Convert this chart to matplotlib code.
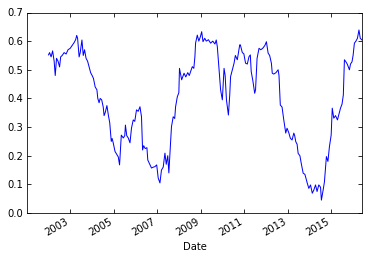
import datetime as dt

import matplotlib
matplotlib.use("Agg")
import matplotlib.pyplot as plt

# rolling value, (decimal year, value)
years = [
    2001.99, 2002.04, 2002.11, 2002.18, 2002.25, 2002.30, 2002.36, 2002.43, 2002.50, 2002.55,
    2002.62, 2002.71, 2002.80, 2002.89, 2002.99, 2003.08, 2003.17, 2003.24, 2003.29, 2003.33,
    2003.40, 2003.45, 2003.53, 2003.59, 2003.65, 2003.72, 2003.79, 2003.86, 2003.93, 2004.00,
    2004.06, 2004.14, 2004.22, 2004.26, 2004.32, 2004.37, 2004.44, 2004.51, 2004.55, 2004.60,
    2004.68, 2004.71, 2004.75, 2004.81, 2004.88, 2004.92, 2004.97, 2005.05, 2005.13, 2005.20,
    2005.26, 2005.30, 2005.34, 2005.43, 2005.50, 2005.53, 2005.59, 2005.66, 2005.74, 2005.81,
    2005.89, 2005.96, 2006.04, 2006.12, 2006.20, 2006.27, 2006.32, 2006.37, 2006.44, 2006.52,
    2006.56, 2006.66, 2006.73, 2006.81, 2006.89, 2006.97, 2007.04, 2007.12, 2007.19, 2007.27,
    2007.35, 2007.41, 2007.48, 2007.53, 2007.58, 2007.65, 2007.73, 2007.80, 2007.84, 2007.92,
    2007.99, 2008.02, 2008.12, 2008.23, 2008.31, 2008.40, 2008.47, 2008.54, 2008.61, 2008.68,
    2008.73, 2008.76, 2008.84, 2008.91, 2008.98, 2009.04, 2009.10, 2009.18, 2009.25, 2009.35,
    2009.45, 2009.55, 2009.65, 2009.71, 2009.76, 2009.84, 2009.91, 2009.99, 2010.07, 2010.12,
    2010.18, 2010.27, 2010.33, 2010.37, 2010.45, 2010.53, 2010.59, 2010.68, 2010.79, 2010.82,
    2010.91, 2010.98, 2011.06, 2011.14, 2011.22, 2011.28, 2011.32, 2011.40, 2011.48, 2011.52,
    2011.59, 2011.68, 2011.76, 2011.85, 2011.95, 2012.02, 2012.10, 2012.17, 2012.25, 2012.29,
    2012.36, 2012.46, 2012.56, 2012.60, 2012.66, 2012.74, 2012.82, 2012.91, 2012.97, 2013.05,
    2013.12, 2013.20, 2013.28, 2013.32, 2013.37, 2013.43, 2013.48, 2013.56, 2013.63, 2013.71,
    2013.79, 2013.90, 2013.97, 2014.05, 2014.13, 2014.20, 2014.28, 2014.35, 2014.43, 2014.51,
    2014.55, 2014.63, 2014.69, 2014.78, 2014.85, 2014.92, 2015.00, 2015.05, 2015.12, 2015.20,
    2015.29, 2015.36, 2015.43, 2015.50, 2015.56, 2015.61, 2015.66, 2015.74, 2015.84, 2015.89,
    2015.96, 2016.01, 2016.07, 2016.14, 2016.21, 2016.28, 2016.34, 2016.42,
]
values = [
    0.552, 0.560, 0.545, 0.566, 0.530, 0.480, 0.540, 0.530, 0.510, 0.545,
    0.550, 0.560, 0.555, 0.570, 0.575, 0.585, 0.595, 0.605, 0.620, 0.610,
    0.545, 0.560, 0.604, 0.550, 0.570, 0.540, 0.530, 0.510, 0.490, 0.480,
    0.470, 0.440, 0.430, 0.400, 0.385, 0.400, 0.395, 0.370, 0.340, 0.350,
    0.375, 0.360, 0.340, 0.315, 0.250, 0.260, 0.245, 0.215, 0.205, 0.196,
    0.168, 0.220, 0.272, 0.262, 0.270, 0.307, 0.270, 0.262, 0.245, 0.297,
    0.325, 0.320, 0.360, 0.355, 0.371, 0.336, 0.220, 0.235, 0.225, 0.228,
    0.185, 0.168, 0.157, 0.160, 0.162, 0.168, 0.122, 0.105, 0.150, 0.160,
    0.209, 0.170, 0.200, 0.140, 0.209, 0.301, 0.336, 0.330, 0.371, 0.406,
    0.420, 0.505, 0.465, 0.488, 0.475, 0.490, 0.480, 0.495, 0.511, 0.505,
    0.546, 0.593, 0.621, 0.600, 0.615, 0.633, 0.598, 0.610, 0.600, 0.605,
    0.593, 0.600, 0.590, 0.604, 0.580, 0.500, 0.430, 0.395, 0.505, 0.480,
    0.395, 0.342, 0.410, 0.476, 0.500, 0.523, 0.550, 0.535, 0.587, 0.587,
    0.560, 0.556, 0.523, 0.520, 0.546, 0.552, 0.494, 0.460, 0.418, 0.430,
    0.540, 0.575, 0.570, 0.575, 0.585, 0.598, 0.558, 0.550, 0.523, 0.488,
    0.485, 0.490, 0.500, 0.480, 0.377, 0.370, 0.325, 0.279, 0.296, 0.280,
    0.261, 0.255, 0.279, 0.270, 0.249, 0.240, 0.208, 0.200, 0.170, 0.139,
    0.135, 0.104, 0.086, 0.098, 0.069, 0.080, 0.098, 0.075, 0.098, 0.090,
    0.045, 0.080, 0.109, 0.197, 0.180, 0.232, 0.272, 0.366, 0.331, 0.340,
    0.325, 0.345, 0.366, 0.380, 0.412, 0.535, 0.530, 0.520, 0.500, 0.520,
    0.528, 0.550, 0.593, 0.600, 0.610, 0.639, 0.610, 0.604,
]
index_start = dt.datetime(2001, 1, 1)  # series index begins here (window not yet filled)
tick_years = [2003, 2005, 2007, 2009, 2011, 2013, 2015]
y_ticks = [0.0, 0.1, 0.2, 0.3, 0.4, 0.5, 0.6, 0.7]


def to_date(y):
    year = int(y)
    return dt.datetime(year, 1, 1) + dt.timedelta(days=(y - year) * 365.25)


dates = [to_date(y) for y in years]

plt.rcParams['font.family'] = 'DejaVu Sans'
plt.rcParams['font.size'] = 10

fig = plt.figure(figsize=(369 / 72, 261 / 72), dpi=72)
ax = fig.add_axes([27 / 369, 1 - 213 / 261, 335 / 369, 200.5 / 261])

ax.plot(dates, values, color='#0000ff', lw=1)

ax.set_xlim(index_start, dates[-1])
ax.set_ylim(0, 0.7)
ax.set_yticks(y_ticks)
ax.yaxis.set_major_formatter(plt.FormatStrFormatter('%.1f'))

ax.set_xticks([dt.datetime(y, 1, 1) for y in tick_years])
ax.set_xticklabels([str(y) for y in tick_years], rotation=30, ha='right')

ax.tick_params(direction='in', length=4, top=True, right=True, colors='black')
ax.set_xlabel('Date')

fig.savefig('out.png', dpi=72)
